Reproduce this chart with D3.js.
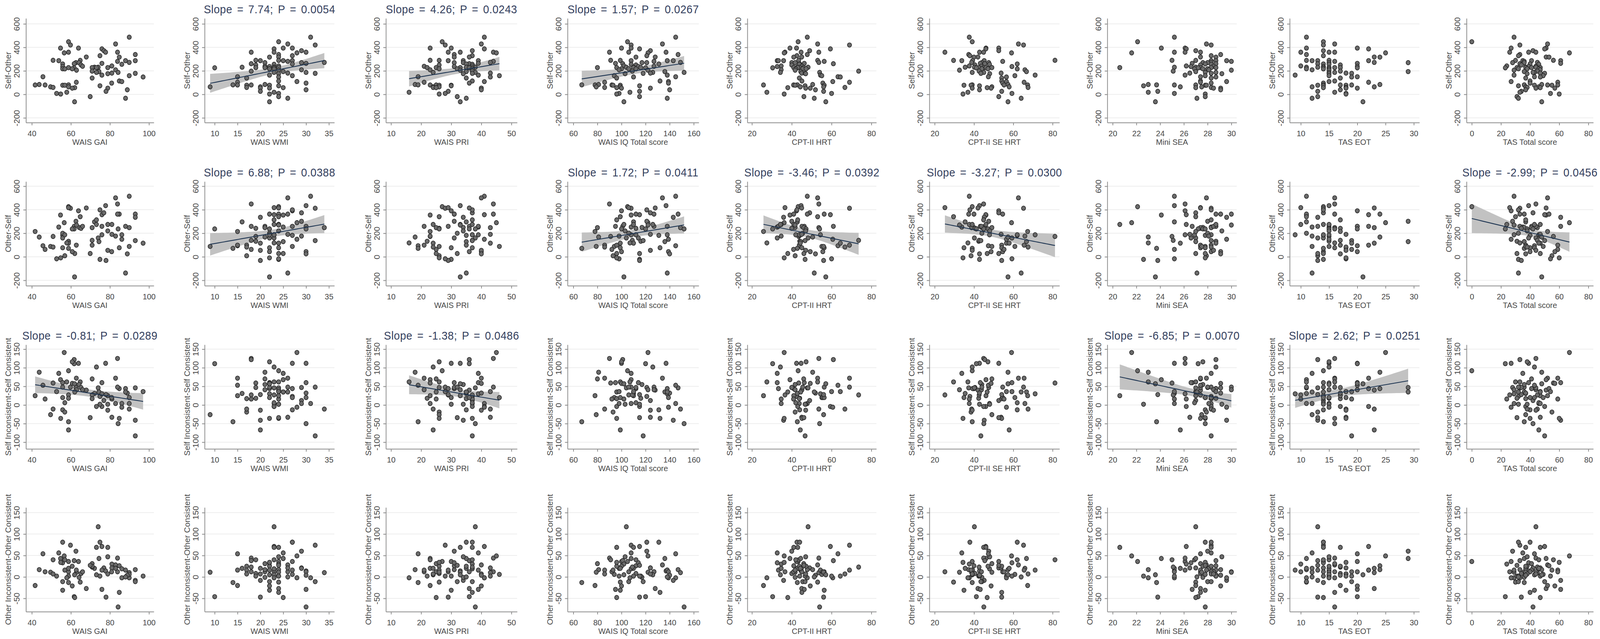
<!DOCTYPE html>
<html>
<head>
<meta charset="utf-8">
<script src="https://cdn.jsdelivr.net/npm/d3@7"></script>
<style>
  html, body { margin: 0; padding: 0; background: #fff; overflow: hidden; }
  #chart svg { display: block; width: 100vw; height: 100vh; }
  text { font-family: "Liberation Sans", Arial, sans-serif; }
</style>
</head>
<body>
<div id="chart"></div>
<script>
// ---- data: one entry per subject, same order in every array ----
const selfOther = [487,448,429,420,394,394,387,372,359,359, 359,353,339,329,318,317,290,289,287,287,
  287,281,272,270,270,264,261,259,256,250, 242,239,237,231,231,228,228,228,228,226,
  218,218,217,209,206,198,194,187,187,181, 179,176,164,159,150,148,139,114,109,103,
  96,84,81,80,80,78,78,73,64,64, 59,57,53,53,39,26,18,8,3,-19, -33,-63];
const otherSelf = [515,426,501,413,355,391,358,374,418,435, 449,290,363,399,415,363,173,341,253,259,
  336,363,248,302,250,259,259,182,187,242, 275,259,160,297,160,132,248,314,275,237,
  200,237,187,176,270,140,129,275,237,191, 138,220,187,88,94,116,99,77,149,99,
  44,168,72,215,63,77,9,-22,88,116, 83,28,44,55,25,-31,118,-17,-9,28, -138,-171];
const selfIncSelfCon = [4,92,72,48,68,112,-4,12,27,112, 125,141,46,23,40,44,59,62,85,44,
  -41,48,-11,47,55,60,122,-13,4,47, 16,41,60,31,46,18,70,-4,25,111,
  48,116,6,4,41,27,35,102,-50,-33, -83,2,30,20,53,36,17,-36,-6,72,
  20,88,-45,25,16,20,-19,2,-26,-67, -11,35,58,-14,32,28,62,36,-36,-34, 35,57];
const otherIncOtherCon = [-2,36,28,74,43,36,71,21,12,14, 44,49,17,81,-27,26,40,-12,56,16,
  -8,12,10,60,-1,-29,38,81,19,8, 30,12,33,20,117,2,31,69,69,-46,
  -11,25,40,20,11,23,43,5,-70,21, -11,47,16,6,54,2,25,-36,-2,16,
  12,17,-13,-20,12,-31,16,2,11,20, 7,-48,-21,7,4,-47,-2,2,34,27, 0,5];

const waisGAI = [89.9,58.8,82.9,59.8,54.7,63.9,75.9,76.9,58.8,77.8, 83.9,56.6,93.0,74.9,67.9,84.8,50.9,64.8,53.8,88.0,
  93.0,83.9,89.9,62.6,64.2,75.9,61.7,55.8,86.1,65.2, 81.0,66.0,55.8,72.1,74.0,58.8,70.9,73.1,78.9,61.7,
  55.8,60.7,56.9,82.9,62.9,70.9,74.4,73.1,84.2,81.0, 93.0,78.9,75.9,89.9,45.7,97.0,70.9,84.8,86.1,62.8,
  80.9,43.8,58.8,41.7,46.8,55.8,56.9,74.9,49.6,58.8, 50.9,62.0,60.7,78.9,88.9,78.0,57.9,52.7,54.8,69.9, 88.0,61.9];
const waisWMI = [31,24,26,32,25,27,23,29,23,30, 18,28,24,27,24,22,19,24,25,27,
  20,26,34,29,21,30,18,27,23,19, 24,21,22,16,23,19,21,23,24,10,
  22,22,23,29,24,18,25,23,30,26, 32,24,22,27,15,24,17,24,28,15,
  30,21,14,15,18,22,17,24,9,20, 17,25,22,20,30,20,23,24,22,24, 26,22];
const waisPRI = [41,27,40,28,23,30,41,37,29,33, 44,45,31,37,36,31,23,26,39,29,
  34,44,43,31,34,39,36,35,37,26, 37,21,31,35,38,22,25,37,33,36,
  32,26,37,23,33,37,35,24,38,43, 37,34,39,46,19,43,35,37,41,21,
  36,18,19,23,25,30,26,30,26,24, 24,25,40,40,40,29,16,28,26,32, 35,33];
const waisIQ = [145,105,134,108,108,100,115,124,106,137, 90,122,147,121,128,112,91,99,108,138,
  143,127,149,121,117,95,101,131,108,112, 102,127,114,110,104,116,80,96,110,120,
  106,100,112,98,122,109,136,126,152,124, 118,103,138,94,145,110,96,132,139,86,
  139,81,67,78,92,99,93,115,79,99, 86,96,100,124,140,115,107,98,96,115, 138,102];
const cptHRT = [47.8,43.2,53.0,69.0,39.1,42.4,59.4,49.0,36.6,44.7, 53.6,36.2,47.8,42.6,45.0,41.0,43.5,53.0,32.7,33.3,
  35.9,56.3,53.6,40.0,41.7,46.3,60.9,44.0,43.8,40.0, 34.7,45.1,32.7,42.8,48.2,44.0,46.0,43.0,41.0,30.4,
  45.5,47.2,42.0,34.7,41.7,73.6,44.5,34.3,54.0,45.0, 46.7,47.0,54.4,55.1,63.2,64.4,43.8,45.1,60.6,69.0,
  55.6,50.5,42.8,25.8,40.9,56.3,41.7,46.7,56.0,44.3, 66.7,38.0,49.3,47.0,51.9,56.0,27.5,60.0,36.2,46.1, 51.3,57.1];
const cptSEHRT = [37.6,39.1,62.6,65.2,46.1,52.6,46.0,52.6,25.2,42.8, 44.9,59.1,37.3,37.9,42.0,40.0,81.2,29.6,33.8,39.3,
  45.2,54.6,38.8,47.5,44.0,43.2,45.5,62.0,47.9,40.5, 37.6,43.8,59.3,35.5,40.2,42.4,49.1,44.9,46.1,41.2,
  44.0,47.1,62.0,65.9,32.6,42.6,66.7,39.1,45.0,53.8, 43.5,48.0,71.1,60.8,47.3,56.5,54.1,54.1,56.5,65.5,
  54.6,57.3,39.1,67.3,55.3,34.9,38.5,42.8,49.1,57.9, 67.5,46.7,48.7,39.1,42.8,54.1,36.9,59.3,34.4,52.6, 64.0,57.3];
const miniSEA = [25.2,22.1,27.9,28.3,24.1,26.1,26.2,27.0,27.4,25.2, 26.1,21.6,29.1,28.3,27.4,28.7,25.0,27.0,28.3,28.7,
  29.6,30.0,28.3,28.0,27.6,26.7,28.7,27.8,28.3,27.4, 26.2,28.5,26.6,25.2,27.0,28.7,27.4,28.3,20.6,27.2,
  28.0,27.6,26.9,28.1,30.0,25.1,27.0,28.7,27.8,26.5, 28.3,29.2,26.1,27.8,27.4,28.7,28.3,27.4,29.6,27.4,
  28.3,23.0,23.7,27.0,25.2,27.8,27.9,22.6,27.5,25.7, 28.3,27.0,29.1,28.5,29.1,23.8,23.0,25.2,27.8,27.8, 27.1,23.6];
const tasEOT = [11,14,16,14,11,20,22,14,10,15, 16,25,11,14,23,24,15,11,12,22,
  13,16,23,29,15,20,13,14,15,17, 10,20,14,11,13,15,16,17,14,20,
  11,15,14,12,15,17,29,15,16,18, 19,15,9,15,20,19,17,16,15,22,
  14,24,14,17,19,18,13,14,12,23, 18,14,20,18,17,13,16,18,18,13, 12,21];
const tasTotal = [29,0,52,33,51,27,50,42,26,39, 44,67,33,32,51,53,56,30,35,41,
  61,36,45,28,36,61,33,40,46,34, 24,44,39,37,44,31,41,37,47,23,
  32,38,46,47,29,45,36,43,42,47, 50,38,29,49,43,47,37,40,27,59,
  40,48,36,52,59,43,55,32,37,46, 38,47,57,44,37,34,33,54,60,31, 32,48];

// rows (y variables) and columns (x variables)
const rowData = [selfOther, otherSelf, selfIncSelfCon, otherIncOtherCon];
const colData = [waisGAI, waisWMI, waisPRI, waisIQ, cptHRT, cptSEHRT, miniSEA, tasEOT, tasTotal];
const yLabels = ["Self-Other", "Other-Self", "Self Inconsistent-Self Consistent", "Other Inconsistent-Other Consistent"];
const xLabels = ["WAIS GAI", "WAIS WMI", "WAIS PRI", "WAIS IQ Total score", "CPT-II HRT",
  "CPT-II SE HRT", "Mini SEA", "TAS EOT", "TAS Total score"];
const yTicks = [[-200, 0, 200, 400, 600], [-200, 0, 200, 400, 600],
  [-100, -50, 0, 50, 100, 150], [-50, 0, 50, 100, 150]];
const xTicks = [[40, 60, 80, 100], [10, 15, 20, 25, 30, 35], [10, 20, 30, 40, 50],
  [60, 80, 100, 120, 140, 160], [20, 40, 60, 80], [20, 40, 60, 80],
  [20, 22, 24, 26, 28, 30], [10, 15, 20, 25, 30], [0, 20, 40, 60, 80]];

// significant linear fits: row, column, slope, p value
const fitRow   = [0, 0, 0, 1, 1, 1, 1, 1, 2, 2, 2, 2];
const fitCol   = [1, 2, 3, 1, 3, 4, 5, 8, 0, 2, 6, 7];
const fitSlope = [7.74, 4.26, 1.57, 6.88, 1.72, -3.46, -3.27, -2.99, -0.81, -1.38, -6.85, 2.62];
const fitP     = ["0.0054", "0.0243", "0.0267", "0.0388", "0.0411", "0.0392", "0.0300", "0.0456",
  "0.0289", "0.0486", "0.0070", "0.0251"];

// ---- layout ----
const W = 4316, H = 1637;
const colLeft = [70, 552, 1041, 1531, 2016, 2507, 2987, 3479, 3956];
const colWidth = [345, 350, 354, 354, 348, 351, 349, 350, 342];
const rowTop = [47, 465, 883, 1300];
const plotH = 267;
const xDomains = [[37, 102.5], [7.8, 36.2], [8.3, 51.9], [55.2, 164.2], [17.7, 82.5],
  [17.3, 83.5], [19.55, 30.45], [8.04, 31], [-3.6, 83.4]];
const yDomains = [[-240, 647], [-246, 640], [-118, 162], [-81, 162]];

const axisColor = "#8a8a8a";
const textColor = "#474747";
const titleColor = "#34405e";

// viewBox keeps the whole 4316x1637 drawing inside the window whatever its CSS size
const svg = d3.select("#chart").append("svg")
  .attr("viewBox", `0 0 ${W} ${H}`)
  .attr("preserveAspectRatio", "none")
  .style("background", "#fff");

// line with confidence band, anchored at the means with the reported slope
function fitBand(xs, ys, slope) {
  const n = xs.length;
  const xm = d3.mean(xs), ym = d3.mean(ys);
  const b0 = ym - slope * xm;
  const sxx = d3.sum(xs, v => (v - xm) ** 2);
  const s = Math.sqrt(d3.sum(xs, (v, i) => (ys[i] - b0 - slope * v) ** 2) / (n - 2));
  const t = 1.99;
  const [lo, hi] = d3.extent(xs);
  return d3.range(0, 41).map(k => {
    const xv = lo + (hi - lo) * k / 40;
    const yv = b0 + slope * xv;
    const se = s * Math.sqrt(1 / n + (xv - xm) ** 2 / sxx);
    return { x: xv, y: yv, lo: yv - t * se, hi: yv + t * se };
  });
}

rowData.forEach((ys, r) => {
  colData.forEach((xs, c) => {
    const w = colWidth[c];
    const g = svg.append("g").attr("transform", `translate(${colLeft[c]},${rowTop[r]})`);
    const x = d3.scaleLinear().domain(xDomains[c]).range([0, w]);
    const y = d3.scaleLinear().domain(yDomains[r]).range([plotH, 0]);

    // horizontal grid
    g.selectAll(".grid")
      .data(yTicks[r])
      .enter()
      .append("line")
      .attr("x1", 0)
      .attr("x2", w)
      .attr("y1", d => y(d))
      .attr("y2", d => y(d))
      .attr("stroke", "#ededed")
      .attr("stroke-width", 2);

    const fi = fitRow.findIndex((fr, i) => fr === r && fitCol[i] === c);
    let band = null;
    if (fi >= 0) {
      band = fitBand(xs, ys, fitSlope[fi]);
      g.append("path")
        .datum(band)
        .attr("d", d3.area().x(d => x(d.x)).y0(d => y(d.lo)).y1(d => y(d.hi)))
        .attr("fill", "#c2c2c2");
    }

    // points
    g.selectAll(".pt")
      .data(xs.map((v, i) => [v, ys[i]]))
      .enter()
      .append("circle")
      .attr("cx", d => x(d[0]))
      .attr("cy", d => y(d[1]))
      .attr("r", 5.6)
      .attr("fill", "#6b6b6b")
      .attr("stroke", "#262626")
      .attr("stroke-width", 1.6);

    if (band) {
      g.append("path")
        .datum(band)
        .attr("d", d3.line().x(d => x(d.x)).y(d => y(d.y)))
        .attr("fill", "none")
        .attr("stroke", "#1e3552")
        .attr("stroke-width", 2.2);

      g.append("text")
        .attr("x", w / 2)
        .attr("y", -13)
        .attr("text-anchor", "middle")
        .attr("fill", titleColor)
        .style("font-size", "29px")
        .style("letter-spacing", "0.6px")
        .style("word-spacing", "4px")
        .text(`Slope = ${fitSlope[fi].toFixed(2)}; P = ${fitP[fi]}`);
    }

    // x axis
    const xa = g.append("g")
      .attr("transform", `translate(0,${plotH})`)
      .call(d3.axisBottom(x).tickValues(xTicks[c]).tickSize(7).tickSizeOuter(0)
        .tickPadding(13).tickFormat(d => String(d)));
    // y axis
    const ya = g.append("g")
      .call(d3.axisLeft(y).tickValues(yTicks[r]).tickSize(7).tickSizeOuter(0)
        .tickFormat(d => String(d)));
    ya.selectAll(".tick text")
      .attr("x", 0)
      .attr("dy", 0)
      .attr("text-anchor", "middle")
      .attr("transform", "translate(-17,0) rotate(-90)");

    [xa, ya].forEach(a => {
      a.select(".domain").attr("stroke", axisColor).attr("stroke-width", 2);
      a.selectAll(".tick line").attr("stroke", axisColor).attr("stroke-width", 2);
      a.selectAll(".tick text")
        .attr("fill", textColor)
        .style("font-size", "21px")
        .style("font-family", "'Liberation Sans', Arial, sans-serif");
    });

    // axis titles
    g.append("text")
      .attr("x", w / 2)
      .attr("y", plotH + 57)
      .attr("text-anchor", "middle")
      .attr("fill", textColor)
      .style("font-size", "21px")
      .text(xLabels[c]);

    g.append("text")
      .attr("transform", `translate(-40,${plotH / 2}) rotate(-90)`)
      .attr("text-anchor", "middle")
      .attr("fill", textColor)
      .style("font-size", "21px")
      .text(yLabels[r]);
  });
});
</script>
</body>
</html>
